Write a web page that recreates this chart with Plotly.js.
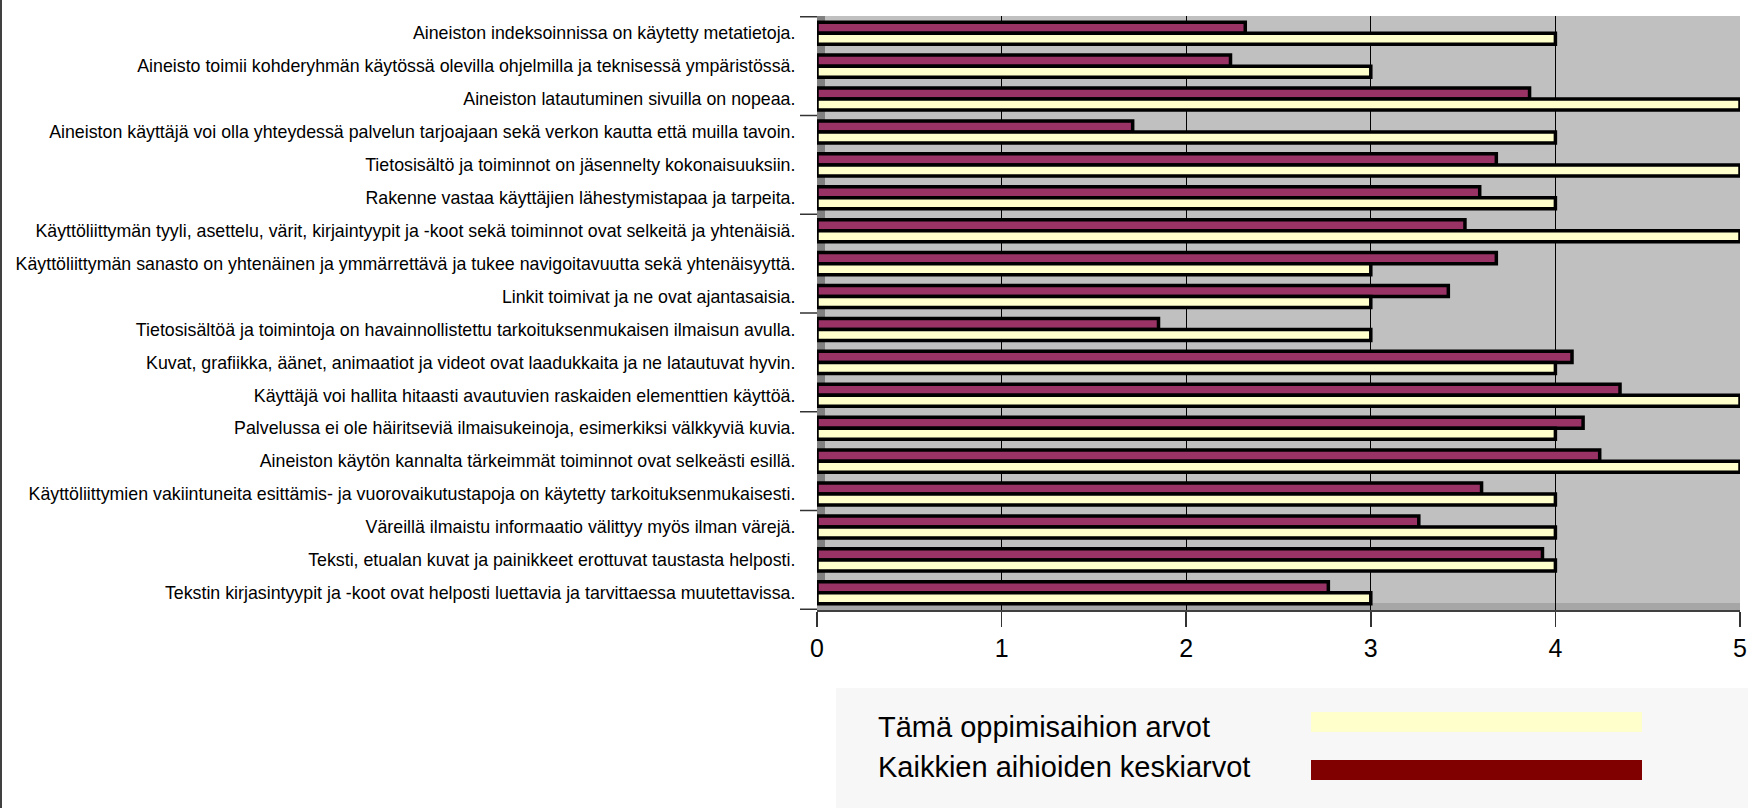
<!DOCTYPE html>
<html>
<head>
<meta charset="utf-8">
<script src="https://cdn.plot.ly/plotly-3.0.1.min.js"></script>
<style>
html,body{margin:0;padding:0;background:#fff;}
#chart{width:1748px;height:808px;}
</style>
</head>
<body>
<div id="chart"></div>
<script>
// Categories, top to bottom as in the reference
const categories = [
  "Aineiston indeksoinnissa on käytetty metatietoja.",
  "Aineisto toimii kohderyhmän käytössä olevilla ohjelmilla ja teknisessä ympäristössä.",
  "Aineiston latautuminen sivuilla on nopeaa.",
  "Aineiston käyttäjä voi olla yhteydessä palvelun tarjoajaan sekä verkon kautta että muilla tavoin.",
  "Tietosisältö ja toiminnot on jäsennelty kokonaisuuksiin.",
  "Rakenne vastaa käyttäjien lähestymistapaa ja tarpeita.",
  "Käyttöliittymän tyyli, asettelu, värit, kirjaintyypit ja -koot sekä toiminnot ovat selkeitä ja yhtenäisiä.",
  "Käyttöliittymän sanasto on yhtenäinen ja ymmärrettävä ja tukee navigoitavuutta sekä yhtenäisyyttä.",
  "Linkit toimivat ja ne ovat ajantasaisia.",
  "Tietosisältöä ja toimintoja on havainnollistettu tarkoituksenmukaisen ilmaisun avulla.",
  "Kuvat, grafiikka, äänet, animaatiot ja videot ovat laadukkaita ja ne latautuvat hyvin.",
  "Käyttäjä voi hallita hitaasti avautuvien raskaiden elementtien käyttöä.",
  "Palvelussa ei ole häiritseviä ilmaisukeinoja, esimerkiksi välkkyviä kuvia.",
  "Aineiston käytön kannalta tärkeimmät toiminnot ovat selkeästi esillä.",
  "Käyttöliittymien vakiintuneita esittämis- ja vuorovaikutustapoja on käytetty tarkoituksenmukaisesti.",
  "Väreillä ilmaistu informaatio välittyy myös ilman värejä.",
  "Teksti, etualan kuvat ja painikkeet erottuvat taustasta helposti.",
  "Tekstin kirjasintyypit ja -koot ovat helposti luettavia ja tarvittaessa muutettavissa."
];

// Tämä oppimisaihion arvot
const thisObjectValues = [4, 3, 5, 4, 5, 4, 5, 3, 3, 3, 4, 5, 4, 5, 4, 4, 4, 3];
// Kaikkien aihioiden keskiarvot
const allAverageValues = [2.32, 2.24, 3.86, 1.71, 3.68, 3.59, 3.51, 3.68, 3.42, 1.85, 4.09, 4.35, 4.15, 4.24, 3.60, 3.26, 3.93, 2.77];

const xTickValues = [0, 1, 2, 3, 4, 5];
const legendLabels = ["Tämä oppimisaihion arvot", "Kaikkien aihioiden keskiarvot"];

const W = 1748, H = 808;
const M = {l: 817, r: 8, t: 16, b: 198};
const PW = W - M.l - M.r, PH = H - M.t - M.b;
const px = x => (x - M.l) / PW;
const py = y => (H - M.b - y) / PH;

const FONT = "Liberation Sans, Arial, sans-serif";

const traces = [
  {
    type: "bar", orientation: "h",
    name: legendLabels[1],
    y: categories, x: allAverageValues,
    marker: {color: "#993366", line: {color: "#000000", width: 3.5}},
    hoverinfo: "none"
  },
  {
    type: "bar", orientation: "h",
    name: legendLabels[0],
    y: categories, x: thisObjectValues,
    marker: {color: "#FFFFCC", line: {color: "#000000", width: 3.5}},
    hoverinfo: "none"
  }
];

const shapes = [
  // left wall of the 3D plot
  {type: "rect", xref: "paper", yref: "paper", x0: 0, x1: px(825), y0: 0, y1: 1,
   fillcolor: "#808080", line: {width: 0}, layer: "below"},
  // floor of the 3D plot
  {type: "rect", xref: "paper", yref: "paper", x0: 0, x1: 1, y0: 0, y1: py(603),
   fillcolor: "#a6a6a6", line: {width: 0}, layer: "below"},
  // image left border
  {type: "rect", xref: "paper", yref: "paper", x0: px(0), x1: px(2), y0: py(H), y1: py(0),
   fillcolor: "#404040", line: {width: 0}},
  // legend background
  {type: "rect", xref: "paper", yref: "paper", x0: px(836), x1: px(W), y0: py(H), y1: py(688),
   fillcolor: "#f7f7f7", line: {width: 0}},
  // legend swatches
  {type: "rect", xref: "paper", yref: "paper", x0: px(1311), x1: px(1642), y0: py(732), y1: py(712),
   fillcolor: "#FFFFCC", line: {width: 0}},
  {type: "rect", xref: "paper", yref: "paper", x0: px(1311), x1: px(1642), y0: py(780), y1: py(760),
   fillcolor: "#800000", line: {width: 0}}
];
// category tick marks every third category boundary
for (let k = 0; k <= categories.length; k += 3) {
  shapes.push({type: "line", xref: "paper", yref: "y", x0: px(800), x1: 0,
               y0: k - 0.5, y1: k - 0.5, line: {color: "#333333", width: 1.5}});
}

const annotations = [
  {xref: "paper", yref: "paper", x: px(876), y: py(727), xanchor: "left", yanchor: "middle",
   text: legendLabels[0], showarrow: false, font: {family: FONT, size: 29, color: "#000"}},
  {xref: "paper", yref: "paper", x: px(876), y: py(767), xanchor: "left", yanchor: "middle",
   text: legendLabels[1], showarrow: false, font: {family: FONT, size: 29, color: "#000"}}
];

const layout = {
  width: W, height: H,
  margin: M,
  paper_bgcolor: "#ffffff",
  plot_bgcolor: "#c0c0c0",
  showlegend: false,
  barmode: "group",
  bargap: 0.33,
  bargroupgap: 0,
  font: {family: FONT, color: "#000"},
  xaxis: {
    range: [0, 5], fixedrange: true,
    tickvals: xTickValues, ticktext: xTickValues.map(String),
    showgrid: true, gridcolor: "#000000", gridwidth: 1,
    zeroline: false,
    ticks: "outside", ticklen: 15, tickcolor: "#333333", tickwidth: 1.5,
    showline: true, linecolor: "#404040", linewidth: 2,
    tickfont: {family: FONT, size: 25, color: "#000"}
  },
  yaxis: {
    type: "category", autorange: "reversed", fixedrange: true,
    ticks: "outside", ticklen: 17, tickcolor: "rgba(0,0,0,0)",
    showgrid: false, zeroline: false, showline: false,
    tickfont: {family: FONT, size: 17.8, color: "#000"}
  },
  shapes: shapes,
  annotations: annotations
};

Plotly.newPlot("chart", traces, layout, {displayModeBar: false, staticPlot: true});
</script>
</body>
</html>
